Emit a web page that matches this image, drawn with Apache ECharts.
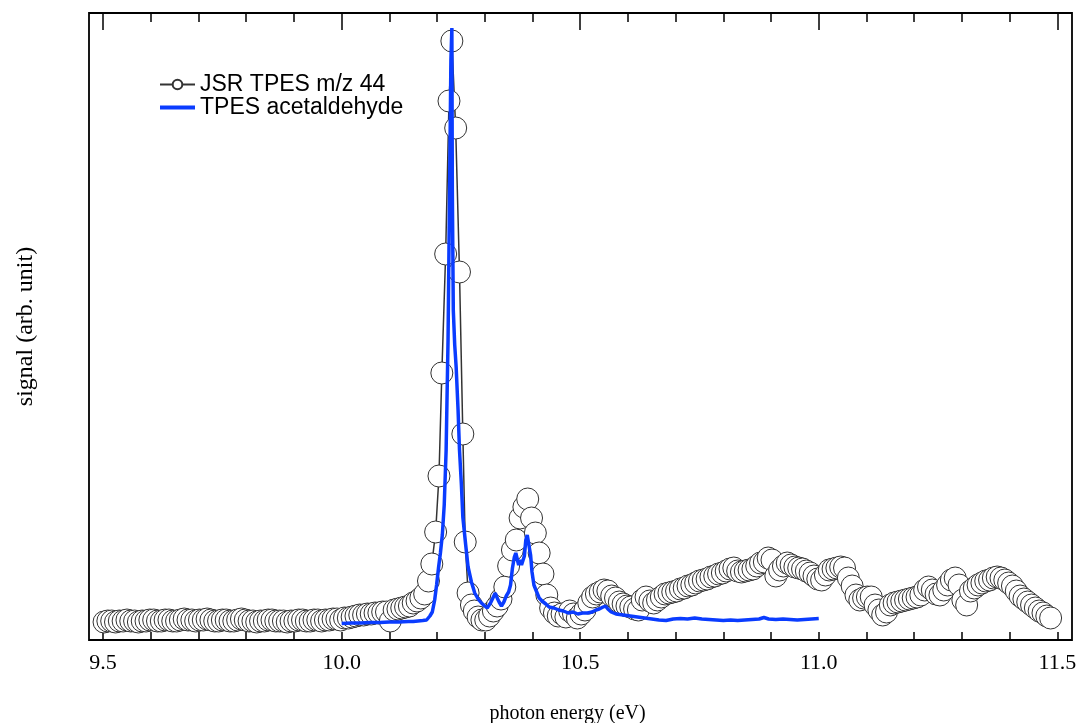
<!DOCTYPE html>
<html>
<head>
<meta charset="utf-8">
<script src="https://cdn.jsdelivr.net/npm/echarts@6/dist/echarts.min.js"></script>
<style>html,body{margin:0;padding:0;background:#fff;}#chart{width:1080px;height:723px;}</style>
</head>
<body>
<div id="chart"></div>
<script>
// JSR TPES m/z 44 (photon energy in eV, signal in arbitrary units)
const energyJSR = [
9.502,9.510,9.518,9.526,9.534,9.542,9.550,9.558,9.566,9.574,
9.582,9.590,9.598,9.606,9.614,9.622,9.630,9.638,9.646,9.654,
9.662,9.670,9.678,9.686,9.694,9.702,9.710,9.718,9.726,9.734,
9.742,9.750,9.758,9.766,9.774,9.782,9.790,9.798,9.806,9.814,
9.822,9.830,9.838,9.846,9.854,9.862,9.870,9.878,9.886,9.894,
9.902,9.910,9.918,9.926,9.934,9.942,9.950,9.958,9.966,9.974,
9.982,9.990,9.998,10.006,10.014,10.022,10.030,10.038,10.046,10.054,
10.062,10.070,10.078,10.086,10.094,10.102,10.110,10.118,10.126,10.134,
10.142,10.150,10.158,10.166,10.174,10.182,
10.189,10.197,10.204,10.210,10.218,10.225,10.231,10.239,10.247,10.254,10.259,10.265,10.272,
10.278,10.286,10.294,
10.302,10.310,10.318,10.326,10.334,10.342,10.350,10.358,10.366,10.374,
10.382,10.390,10.398,10.406,10.414,10.422,10.430,10.438,10.446,10.454,
10.462,10.470,10.478,10.486,10.494,10.502,10.510,10.518,10.526,10.534,
10.542,10.550,10.558,10.566,10.574,10.582,10.590,10.598,10.606,10.614,
10.622,10.630,10.638,10.646,10.654,10.662,10.670,10.678,10.686,10.694,
10.702,10.710,10.718,10.726,10.734,10.742,10.750,10.758,10.766,10.774,
10.782,10.790,10.798,10.806,10.814,10.822,10.830,10.838,10.846,10.854,
10.862,10.870,10.878,10.886,10.894,10.902,10.910,10.918,10.926,10.934,
10.942,10.950,10.958,10.966,10.974,10.982,10.990,10.998,11.006,11.014,
11.022,11.030,11.038,11.046,11.054,11.062,11.070,11.078,11.086,11.094,
11.102,11.110,11.118,11.126,11.134,11.142,11.150,11.158,11.166,11.174,
11.182,11.190,11.198,11.206,11.214,11.222,11.230,11.238,11.246,11.254,
11.262,11.270,11.278,11.286,11.294,11.302,11.310,11.318,11.326,11.334,
11.342,11.350,11.358,11.366,11.374,11.382,11.390,11.398,11.406,11.414,
11.422,11.430,11.438,11.446,11.454,11.462,11.470,11.478,11.486
];
const signalJSR = [
18,19,19,18,19,19,20,19,19,18,
19,19,20,20,19,19,20,20,19,19,
20,21,20,20,19,20,20,21,20,19,
19,20,20,19,19,20,21,20,19,19,
18,19,19,20,20,19,19,19,18,19,
19,20,20,19,19,20,20,19,20,20,
21,21,20,22,22,23,24,25,25,26,
26,27,27,28,28,19,30,31,32,33,
34,37,39,42,46,59,
76,108,164,267,386,539,599,512,368,206,98,47,35,
29,23,20,
20,24,29,34,41,53,74,90,100,122,
133,141,122,107,87,66,45,32,27,24,
26,23,29,26,22,26,30,37,43,46,
48,50,49,44,42,38,36,34,33,31,
30,40,43,39,37,40,43,46,47,48,
49,51,52,54,55,57,59,60,61,63,
64,66,67,69,71,72,69,68,69,70,
71,74,77,78,82,80,64,70,74,77,
75,73,72,71,69,67,64,61,60,65,
70,71,72,73,72,62,54,45,40,42,
43,43,35,30,25,28,35,37,38,39,
40,41,42,43,45,50,53,50,46,45,
50,55,60,62,55,40,35,49,52,55,
57,59,60,62,63,62,60,57,54,49,
44,41,38,35,32,29,27,24,22
];

// TPES acetaldehyde
const energyTPES = [
10.000,10.020,10.040,10.060,10.080,10.100,10.120,10.140,10.150,10.160,
10.170,10.178,10.185,10.190,10.195,10.199,10.203,10.207,10.211,10.215,
10.219,10.223,10.226,10.229,10.231,10.232,10.234,10.237,10.240,10.244,
10.247,10.251,10.254,10.260,10.265,10.272,10.279,10.286,10.293,10.300,
10.305,10.312,10.318,10.322,10.326,10.330,10.335,10.340,10.345,10.350,
10.354,10.358,10.362,10.365,10.368,10.371,10.374,10.377,10.383,10.386,
10.389,10.393,10.396,10.399,10.403,10.408,10.414,10.420,10.428,10.435,
10.445,10.455,10.465,10.475,10.485,10.495,10.505,10.515,10.525,10.533,
10.540,10.548,10.553,10.558,10.565,10.575,10.590,10.605,10.620,10.635,
10.650,10.665,10.680,10.695,10.710,10.725,10.740,10.755,10.770,10.785,
10.800,10.815,10.830,10.845,10.860,10.875,10.885,10.895,10.910,10.925,
10.940,10.955,10.970,10.985,11.000
];
const signalTPES = [
16.5,17,17,17.5,17.5,18,18,18.5,18.5,19,
19.5,20,24,28,40,55,72,87,105,135,
190,300,440,580,612,450,330,295,273,230,
190,155,123,95,73,58,47,41,37,34,
32,37,43,47,42,38,34,38,44,48,
55,72,83,87,88,75,80,75,84,100,
105,104,85,68,55,49,42,39,36,33,
32,30,29,27,28,26,27,27,28,30,
31,33,34,31,28,26,25,24,23,22,
21,20,19.5,21,21.5,21,22,21,20.5,20,
19.5,20,19.5,20,20.5,21,22.5,21,20.5,21,
20.5,20,20.5,21,21.5
];

const xTickLabels = ['9.5','10.0','10.5','11.0','11.5'];
const xMin = 9.5, xMax = 11.5, xStep = 0.5;
const seriesNames = ['JSR TPES m/z 44','TPES acetaldehyde'];

const chart = echarts.init(document.getElementById('chart'), null, {renderer:'canvas'});
const serif = '"Liberation Serif","DejaVu Serif",serif';
const sans = '"Liberation Sans",Arial,sans-serif';

chart.setOption({
  animation:false,
  backgroundColor:'#ffffff',
  grid:[
    {left:103.1,right:22.7,top:13,bottom:83,show:false,containLabel:false,outerBoundsMode:'none'},
    {left:89,right:8,top:13,bottom:83,show:true,borderColor:'#000',borderWidth:1.8,backgroundColor:'transparent',containLabel:false,outerBoundsMode:'none'}
  ],
  xAxis:[
    {gridIndex:0,type:'value',min:xMin,max:xMax,interval:xStep,position:'bottom',
     axisLine:{show:false},
     axisTick:{show:true,inside:true,length:8,lineStyle:{color:'#000',width:1.5}},
     minorTick:{show:true,splitNumber:5,length:8,lineStyle:{color:'#000',width:1.5}},
     axisLabel:{fontFamily:serif,fontSize:22,color:'#000',margin:12,
       formatter:function(v){const i=Math.round((v-xMin)/xStep);return xTickLabels[i]||'';}},
     splitLine:{show:false},minorSplitLine:{show:false}},
    {gridIndex:0,type:'value',min:xMin,max:xMax,interval:xStep,position:'top',
     axisLine:{show:false},
     axisTick:{show:true,inside:true,length:17,lineStyle:{color:'#000',width:1.5}},
     minorTick:{show:true,splitNumber:5,length:9,lineStyle:{color:'#000',width:1.5}},
     axisLabel:{show:false},splitLine:{show:false}},
    {gridIndex:1,type:'value',min:0,max:1,name:'photon energy (eV)',nameLocation:'middle',nameGap:64,
     nameTextStyle:{fontFamily:serif,fontSize:20,color:'#000',padding:[0,26,0,0]},
     axisLine:{show:false},axisTick:{show:false},axisLabel:{show:false},splitLine:{show:false}}
  ],
  yAxis:[
    {gridIndex:0,type:'value',min:0,max:627,show:false},
    {gridIndex:1,type:'value',min:0,max:1,name:'signal (arb. unit)',nameLocation:'middle',nameGap:51,
     nameTextStyle:{fontFamily:serif,fontSize:24,color:'#000'},
     axisLine:{show:false},axisTick:{show:false},axisLabel:{show:false},splitLine:{show:false}}
  ],
  legend:{
    orient:'vertical',left:154,top:68,itemWidth:35,itemHeight:12,itemGap:0,
    textStyle:{fontFamily:sans,fontSize:23,color:'#000',lineHeight:23},
    data:[
      {name:seriesNames[0]},
      {name:seriesNames[1],icon:'path://M0,0 L35,0 L35,4 L0,4 Z',itemStyle:{color:'#0a3cff'}}
    ]
  },
  series:[
    {type:'line',name:seriesNames[0],xAxisIndex:0,yAxisIndex:0,z:2,
     data:energyJSR.map(function(e,i){return [e,signalJSR[i]];}),
     symbol:'circle',symbolSize:22,showAllSymbol:true,
     lineStyle:{color:'#333',width:1.5},
     itemStyle:{color:'#ffffff',borderColor:'#333',borderWidth:1},
     emphasis:{disabled:true}},
    {type:'line',name:seriesNames[1],xAxisIndex:0,yAxisIndex:0,z:5,
     data:energyTPES.map(function(e,i){return [e,signalTPES[i]];}),
     symbol:'none',
     lineStyle:{color:'#0a3cff',width:3.5},
     itemStyle:{color:'#0a3cff'},
     emphasis:{disabled:true}}
  ]
});
</script>
</body>
</html>
